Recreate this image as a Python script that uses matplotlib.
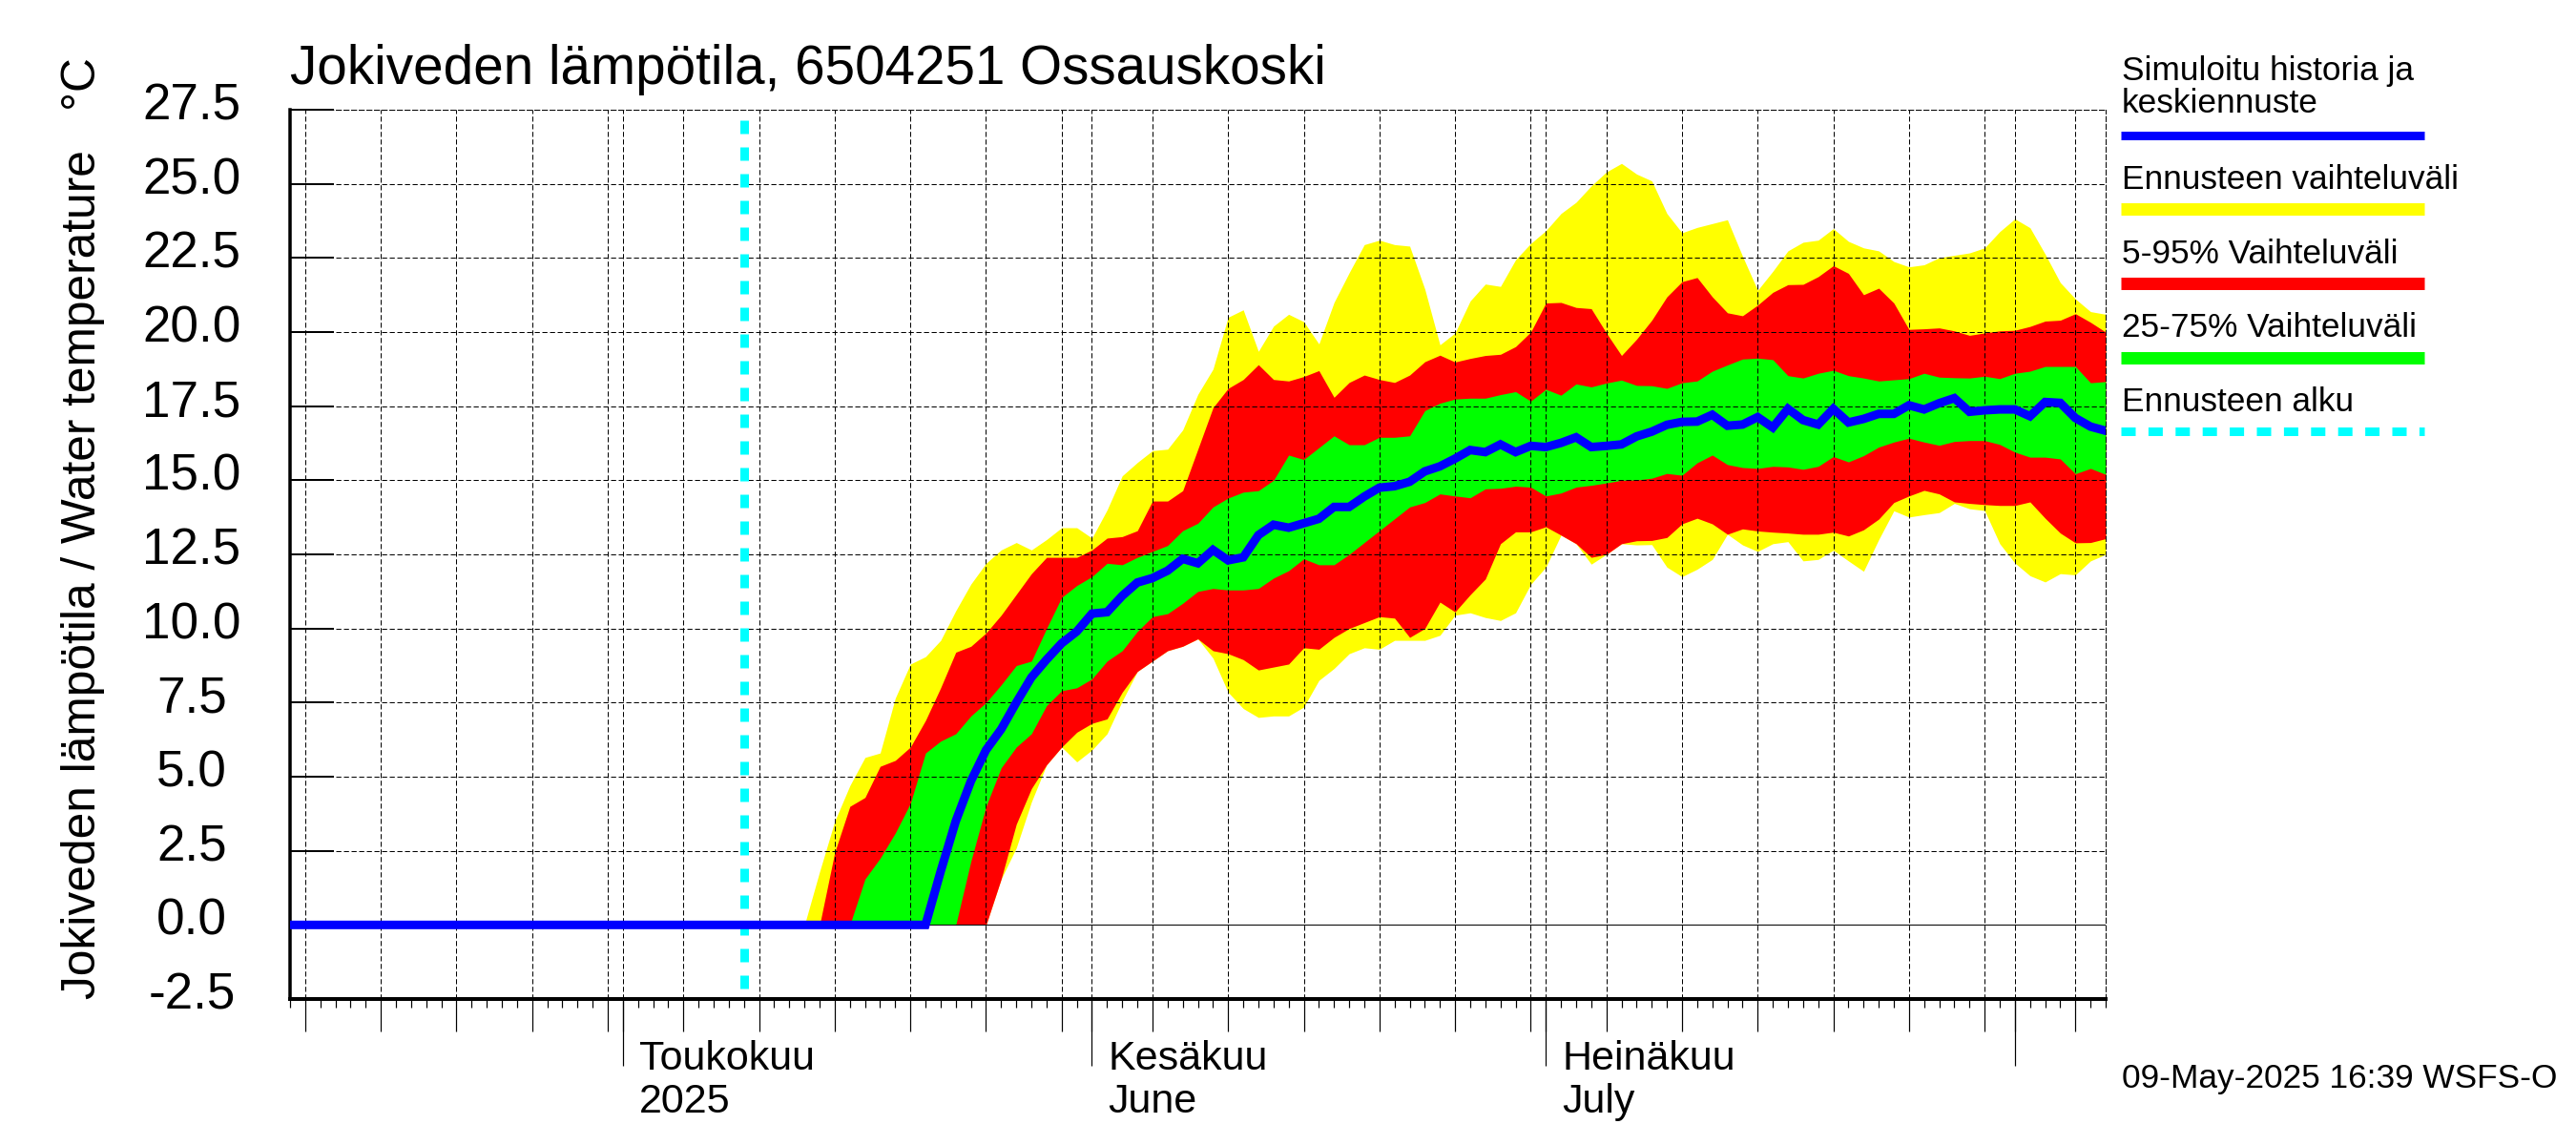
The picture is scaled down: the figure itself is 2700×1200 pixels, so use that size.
import matplotlib
matplotlib.use("Agg")
import matplotlib.pyplot as plt
import matplotlib.dates as mdates
from matplotlib.lines import Line2D
from matplotlib.transforms import ScaledTranslation
import pandas as pd

plt.rcParams['font.family'] = ['Liberation Sans', 'DejaVu Sans']

### data, daily values
band_start = '2025-05-13'
hist_start = '2025-04-09'

yellow_up = [0.0, 1.8, 3.5, 4.7, 5.65, 5.8, 7.65, 8.8, 9.05, 9.6, 10.6, 11.5, 12.2, 12.65, 12.9, 12.65, 13.0, 13.4, 13.4, 13.05,
             14.0, 15.15, 15.6, 16.0, 16.05, 16.7, 17.9, 18.75, 20.5, 20.75, 19.35, 20.2, 20.6, 20.35, 19.6, 21.0, 22.0, 22.95, 23.1, 22.95, 22.9, 21.45,
             19.57, 19.97, 21.05, 21.62, 21.54, 22.44, 22.99, 23.42, 24.0, 24.38, 24.93, 25.4, 25.69, 25.33, 25.1, 24.0, 23.35, 23.53, 23.66, 23.79,
             22.56, 21.41, 22.05, 22.74, 23.03, 23.1, 23.49, 23.06, 22.84, 22.74, 22.38, 22.2, 22.27, 22.51, 22.59, 22.67, 22.84, 23.39, 23.82, 23.52,
             22.63, 21.67, 21.12, 20.69, 20.6]
red_up = [0.0, 0.0, 2.45, 4.0, 4.3, 5.35, 5.55, 6.0, 6.9, 8.0, 9.2, 9.4, 9.85, 10.45, 11.15, 11.85, 12.4, 12.4, 12.4, 12.65,
          13.05, 13.1, 13.3, 14.3, 14.3, 14.65, 16.05, 17.45, 18.1, 18.4, 18.9, 18.4, 18.35, 18.5, 18.7, 17.8, 18.3, 18.55, 18.4, 18.3, 18.55, 19.0,
          19.22, 18.99, 19.11, 19.21, 19.25, 19.51, 20.0, 20.98, 21.0, 20.83, 20.79, 19.97, 19.21, 19.76, 20.4, 21.19, 21.7, 21.84, 21.19, 20.65,
          20.55, 20.91, 21.34, 21.6, 21.61, 21.87, 22.24, 21.98, 21.26, 21.48, 20.98, 20.09, 20.11, 20.14, 20.04, 19.89, 19.97, 20.04, 20.06, 20.19,
          20.37, 20.4, 20.62, 20.33, 20.0]
green_up = [0.0, 0.0, 0.0, 0.0, 1.55, 2.25, 3.1, 4.1, 5.8, 6.2, 6.45, 7.05, 7.5, 8.1, 8.75, 8.9, 10.0, 11.05, 11.45, 11.75,
            12.2, 12.15, 12.4, 12.6, 12.8, 13.3, 13.55, 14.1, 14.4, 14.6, 14.65, 15.0, 15.85, 15.7, 16.1, 16.5, 16.2, 16.2, 16.45, 16.45, 16.5, 17.35,
            17.6, 17.74, 17.77, 17.77, 17.89, 17.99, 17.67, 18.07, 17.87, 18.25, 18.15, 18.28, 18.38, 18.2, 18.19, 18.1, 18.29, 18.35, 18.68, 18.89,
            19.09, 19.12, 19.07, 18.53, 18.45, 18.61, 18.71, 18.53, 18.45, 18.35, 18.39, 18.43, 18.61, 18.48, 18.46, 18.45, 18.51, 18.43, 18.61, 18.68,
            18.84, 18.84, 18.84, 18.29, 18.33]
green_low = [0.0, 0.0, 0.0, 0.0, 0.0, 0.0, 0.0, 0.0, 0.0, 0.0, 0.0, 2.15, 4.0, 5.3, 6.0, 6.45, 7.4, 7.9, 8.0, 8.3,
             8.9, 9.25, 9.9, 10.4, 10.5, 10.85, 11.25, 11.35, 11.3, 11.3, 11.35, 11.7, 11.95, 12.35, 12.15, 12.15, 12.5, 12.9, 13.3, 13.7, 14.1, 14.25,
             14.54, 14.47, 14.41, 14.71, 14.73, 14.8, 14.77, 14.47, 14.57, 14.77, 14.83, 14.91, 15.0, 15.01, 15.07, 15.23, 15.17, 15.59, 15.85, 15.53,
             15.43, 15.4, 15.47, 15.45, 15.37, 15.47, 15.8, 15.62, 15.83, 16.12, 16.29, 16.42, 16.29, 16.18, 16.31, 16.34, 16.34, 16.21, 15.95, 15.78,
             15.78, 15.72, 15.22, 15.4, 15.2]
red_low = [0.0, 0.0, 0.0, 0.0, 0.0, 0.0, 0.0, 0.0, 0.0, 0.0, 0.0, 0.0, 0.0, 1.55, 3.4, 4.6, 5.4, 6.0, 6.5, 6.8,
           6.95, 7.85, 8.55, 8.9, 9.25, 9.4, 9.65, 9.25, 9.15, 8.95, 8.6, 8.7, 8.8, 9.35, 9.3, 9.7, 10.0, 10.2, 10.4, 10.35, 9.7, 10.0,
           10.89, 10.56, 11.14, 11.67, 12.86, 13.26, 13.26, 13.43, 13.15, 12.86, 12.4, 12.5, 12.86, 12.96, 12.97, 13.07, 13.53, 13.72, 13.53, 13.18,
           13.36, 13.29, 13.25, 13.22, 13.18, 13.18, 13.25, 13.12, 13.33, 13.69, 14.25, 14.47, 14.66, 14.54, 14.27, 14.22, 14.18, 14.15, 14.15, 14.27,
           13.72, 13.22, 12.89, 12.9, 13.03]
yellow_low = [0.0, 0.0, 0.0, 0.0, 0.0, 0.0, 0.0, 0.0, 0.0, 0.0, 0.0, 0.0, 0.0, 1.55, 2.6, 4.15, 5.4, 6.0, 5.5, 5.9,
              6.45, 7.55, 8.55, 8.9, 9.25, 9.4, 9.65, 9.0, 7.85, 7.3, 7.0, 7.05, 7.05, 7.35, 8.25, 8.65, 9.15, 9.35, 9.3, 9.6, 9.6, 9.6,
              9.77, 10.45, 10.53, 10.37, 10.27, 10.53, 11.49, 12.07, 13.15, 12.86, 12.17, 12.5, 12.86, 12.82, 12.83, 12.07, 11.75, 12.0, 12.33, 13.18,
              12.82, 12.6, 12.86, 12.93, 12.28, 12.33, 12.64, 12.28, 11.93, 13.0, 13.97, 13.76, 13.84, 13.91, 14.22, 14.04, 13.98, 12.86, 12.21, 11.78,
              11.57, 11.85, 11.81, 12.28, 12.5]
mean_sim = [0.0, 0.0, 0.0, 0.0, 0.0, 0.0, 0.0, 0.0, 0.0, 0.0, 0.0, 0.0, 0.0, 0.0, 0.0, 0.0, 0.0, 0.0, 0.0, 0.0, 0.0, 0.0,
            0.0, 0.0, 0.0, 0.0, 0.0, 0.0, 0.0, 0.0, 0.0, 0.0, 0.0, 0.0, 0.0, 0.0, 0.0, 0.0, 0.0, 0.0, 0.0, 0.0, 0.0,
            1.8, 3.5, 4.85, 5.9, 6.6, 7.5, 8.35, 8.95, 9.5, 9.9, 10.5, 10.55, 11.1, 11.55, 11.7, 11.95, 12.35, 12.2, 12.65, 12.3, 12.4, 13.15, 13.5, 13.4, 13.55, 13.7, 14.1, 14.1, 14.45, 14.75, 14.8, 14.95, 15.3,
            15.47, 15.73, 16.02, 15.95, 16.21, 15.95, 16.16, 16.12, 16.26, 16.45, 16.12, 16.16, 16.21, 16.48, 16.64, 16.87, 16.97, 16.98, 17.21, 16.84, 16.88, 17.13, 16.78, 17.41, 17.03, 16.88, 17.41, 16.95, 17.07, 17.24, 17.24, 17.53, 17.39, 17.6, 17.77, 17.31, 17.36, 17.39, 17.39, 17.16, 17.64, 17.61, 17.1, 16.81, 16.67]

y_ticks = [-2.5, 0.0, 2.5, 5.0, 7.5, 10.0, 12.5, 15.0, 17.5, 20.0, 22.5, 25.0, 27.5]
month_starts = ['2025-05-01', '2025-06-01', '2025-07-01', '2025-08-01']
month_names = ['Toukokuu', 'Kesäkuu', 'Heinäkuu']
month_sub = ['2025', 'June', 'July']
forecast_start = '2025-05-09'

band_days = pd.date_range(band_start, periods=len(yellow_up))
hist_days = pd.date_range(hist_start, periods=len(mean_sim))
all_days = pd.date_range('2025-04-09', '2025-08-07')
grid_days = [d for d in all_days if d.day % 5 == 0 or d.day == 1]
months = mdates.date2num(pd.to_datetime(month_starts))

W, H = 2700.0, 1200.0
PX = 0.72  # one pixel in points at dpi 100


def fx(x):
    return x / W


def fy(y):
    return 1 - y / H


fig = plt.figure(figsize=(27, 12), dpi=100)
ax = fig.add_axes([fx(304), fy(1047), fx(2207 - 304), fy(115) - fy(1047)])

ax.fill_between(band_days, yellow_low, yellow_up, color='#ffff00', lw=0, antialiased=False)
ax.fill_between(band_days, red_low, red_up, color='#ff0000', lw=0, antialiased=False)
ax.fill_between(band_days, green_low, green_up, color='#00ff00', lw=0, antialiased=False)
ax.axhline(0, color='black', lw=PX, zorder=1.6)
ax.plot([pd.Timestamp(forecast_start)] * 2, [27.15, -2.5], color='#00ffff', lw=9 * PX,
        linestyle=(0, (14 / 9, 14 / 9)), dash_capstyle='butt', zorder=3)
ax.plot(hist_days, mean_sim, color='#0000ff', lw=9 * PX, zorder=4, solid_joinstyle='miter')

ax.set_xlim(all_days[0], all_days[-1])
ax.set_ylim(-2.5, 27.5)

ax.set_xticks(grid_days)
ax.set_xticks(all_days, minor=True)
ax.set_xticklabels([])
ax.tick_params(axis='x', which='major', length=34 * PX, width=1.2 * PX, direction='out')
ax.tick_params(axis='x', which='minor', length=9 * PX, width=1.2 * PX, direction='out')
ax.set_yticks(y_ticks)
ax.set_yticklabels(['%.1f' % v for v in y_ticks], fontsize=53 * PX, ha='center')
ax.tick_params(axis='y', which='major', length=46 * PX, width=2 * PX, direction='in', pad=103 * PX)
for lab in ax.get_yticklabels():
    lab.set_transform(lab.get_transform() + ScaledTranslation(0, 9 / 100.0, fig.dpi_scale_trans))

ax.grid(True, which='major', color='black', lw=PX, linestyle=(0, (5.3, 2.7)))

for side, width in [('left', 3.5), ('bottom', 4)]:
    ax.spines[side].set_linewidth(width * PX)
for side in ['top', 'right']:
    ax.spines[side].set_linewidth(PX)
    ax.spines[side].set_linestyle((0, (5.3, 2.7)))

# longer ticks at the month starts
sec = ax.secondary_xaxis('bottom')
sec.set_xticks(months)
sec.set_xticklabels([])
sec.tick_params(length=70 * PX, width=1.2 * PX, direction='out')
sec.spines['bottom'].set_visible(False)

for i in range(len(month_names)):
    ax.annotate(month_names[i], xy=(months[i], 0), xycoords=ax.get_xaxis_transform(),
                xytext=(17 * PX, -74 * PX), textcoords='offset points', fontsize=43 * PX,
                va='baseline', ha='left', annotation_clip=False)
    ax.annotate(month_sub[i], xy=(months[i], 0), xycoords=ax.get_xaxis_transform(),
                xytext=(17 * PX, -119 * PX), textcoords='offset points', fontsize=43 * PX,
                va='baseline', ha='left', annotation_clip=False)

fig.text(fx(304), fy(88), 'Jokiveden lämpötila, 6504251 Ossauskoski', fontsize=56.6 * PX, va='baseline', ha='left')
fig.text(fx(100), fy(554), 'Jokiveden lämpötila / Water temperature   °C', fontsize=49.6 * PX,
         rotation=90, rotation_mode='anchor', va='baseline', ha='center')

# legend on the right, text and strip below it
legend_x0, legend_x1 = 2222.5, 2541
legend_size = 35.3 * PX
fig.text(fx(2224), fy(84), 'Simuloitu historia ja', fontsize=legend_size, va='baseline')
fig.text(fx(2224), fy(118.5), 'keskiennuste', fontsize=legend_size, va='baseline')
fig.add_artist(Line2D([fx(legend_x0), fx(legend_x1)], [fy(141.5)] * 2, color='#0000ff', lw=9 * PX, solid_capstyle='butt'))
fig.text(fx(2224), fy(197.5), 'Ennusteen vaihteluväli', fontsize=legend_size, va='baseline')
fig.add_artist(Line2D([fx(legend_x0), fx(legend_x1)], [fy(219.5)] * 2, color='#ffff00', lw=13 * PX, solid_capstyle='butt'))
fig.text(fx(2224), fy(275.5), '5-95% Vaihteluväli', fontsize=legend_size, va='baseline')
fig.add_artist(Line2D([fx(legend_x0), fx(legend_x1)], [fy(297)] * 2, color='#ff0000', lw=13 * PX, solid_capstyle='butt'))
fig.text(fx(2224), fy(353), '25-75% Vaihteluväli', fontsize=legend_size, va='baseline')
fig.add_artist(Line2D([fx(legend_x0), fx(legend_x1)], [fy(375)] * 2, color='#00ff00', lw=13 * PX, solid_capstyle='butt'))
fig.text(fx(2224), fy(431), 'Ennusteen alku', fontsize=legend_size, va='baseline')
fig.add_artist(Line2D([fx(legend_x0), fx(legend_x1)], [fy(452)] * 2, color='#00ffff', lw=9 * PX,
                      linestyle=(0, (15 / 9, 13.4 / 9)), dash_capstyle='butt'))

fig.text(fx(2224), fy(1140), '09-May-2025 16:39 WSFS-O', fontsize=legend_size, va='baseline')

fig.savefig('out.png', dpi=100)
